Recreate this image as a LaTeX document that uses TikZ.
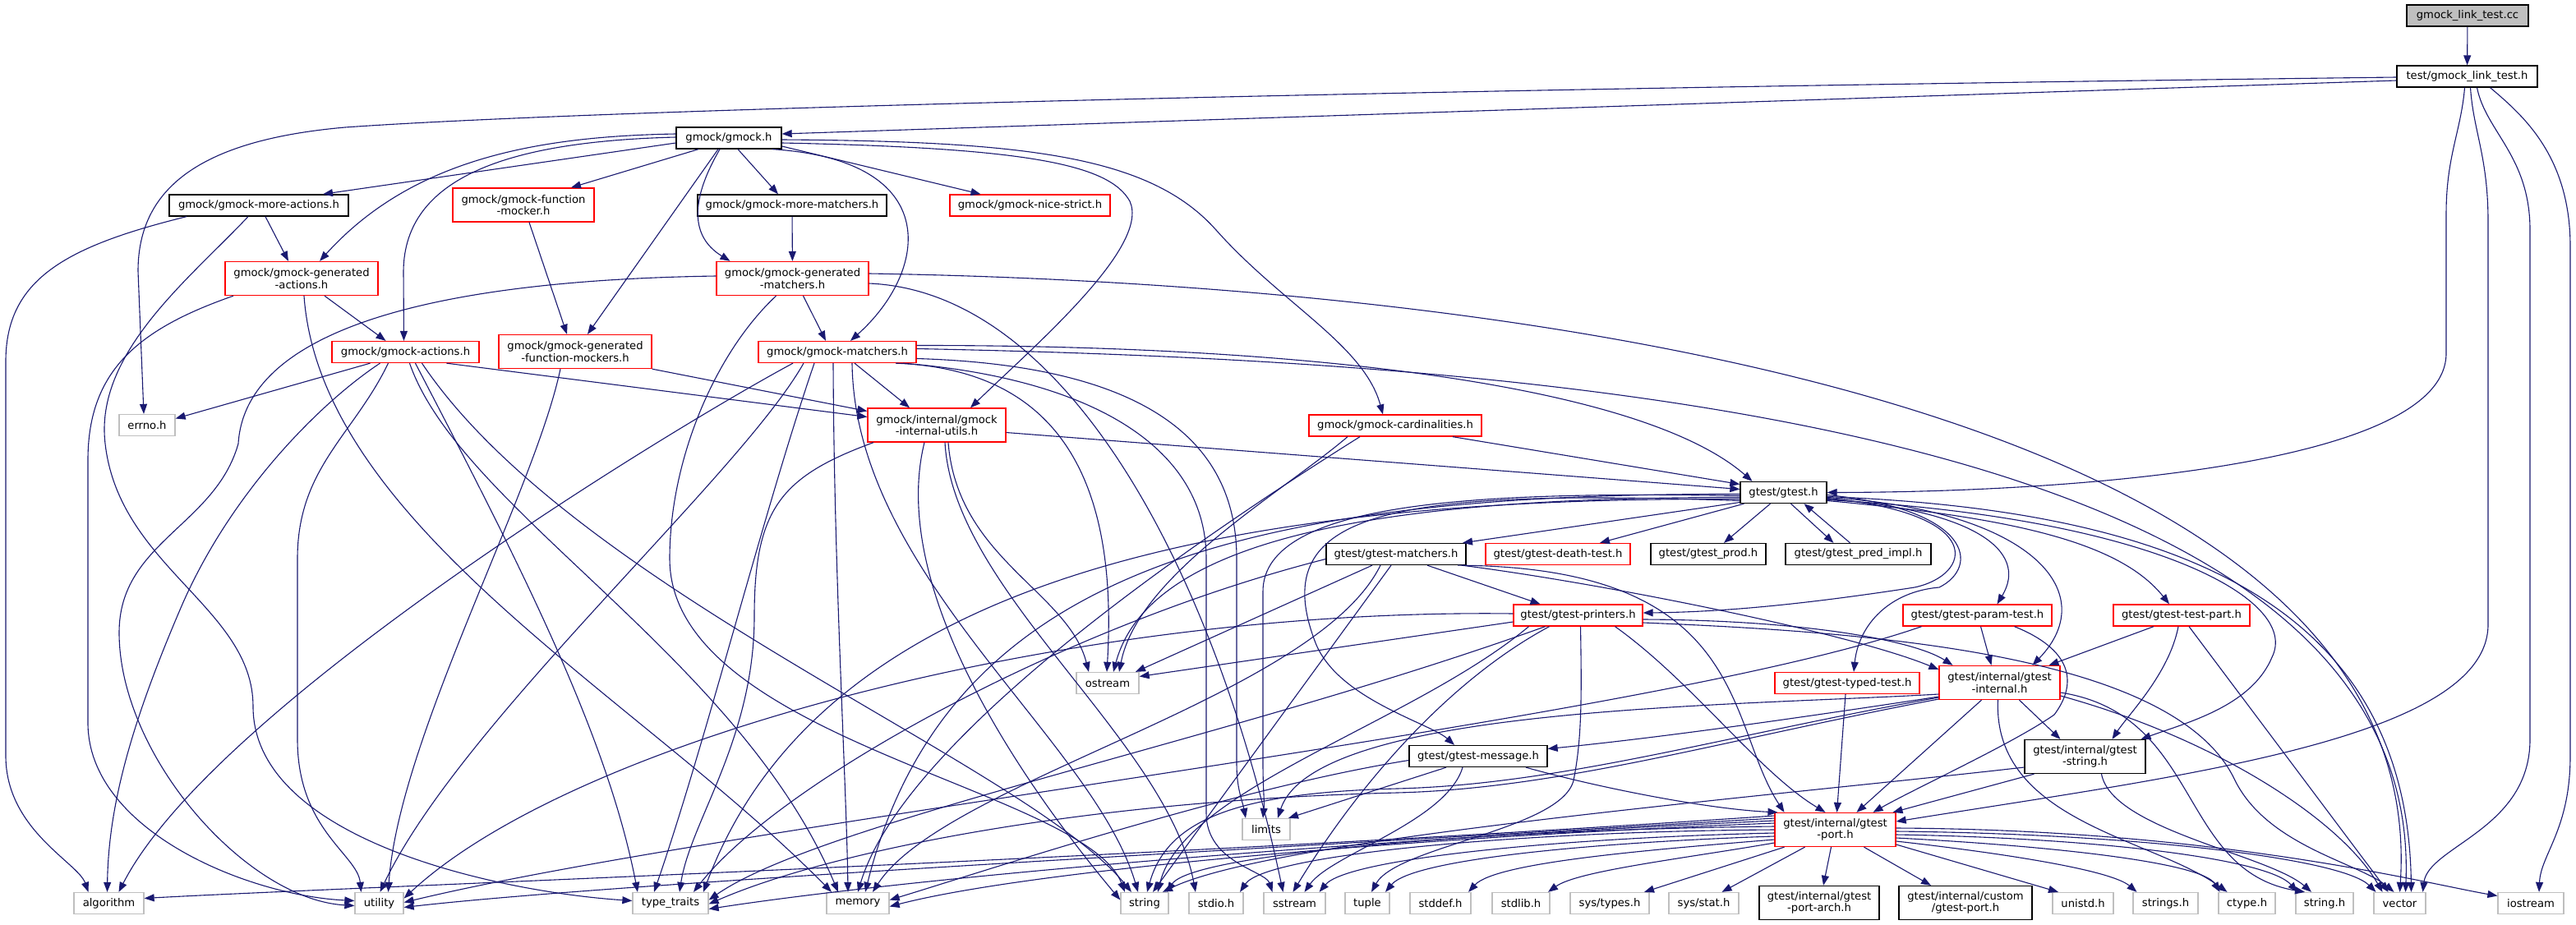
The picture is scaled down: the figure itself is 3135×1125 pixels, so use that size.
\documentclass[tikz,border=0pt]{standalone}
\usepackage{fontspec}
\setmainfont{DejaVu Sans}
\usetikzlibrary{arrows.meta}
\definecolor{edgec}{HTML}{191970}
\definecolor{greyc}{HTML}{BFBFBF}
\begin{document}
\begin{tikzpicture}[x=1pt,y=-1pt,
  nbox/.style={rectangle, inner sep=0pt, line width=1.3pt, fill=white, align=center,
    font=\fontsize{13.15pt}{14.4pt}\selectfont, minimum height=26pt},
  twol/.style={minimum height=41pt},
  bk/.style={nbox, draw=black},
  rd/.style={nbox, draw=red},
  gy/.style={nbox, draw=greyc},
  edg/.style={draw=edgec, line width=1.1pt, -{Triangle[length=12pt,width=9pt]}},
]
\useasboundingbox (0,0) rectangle (3135,1125);
\fill[white] (0,0) rectangle (3135,1125);

% ---------- nodes ----------
\node[bk, fill=greyc, minimum width=148pt] (cc) at (3003,19) {gmock\_link\_test.cc};
\node[bk, minimum width=171pt] (test) at (3002.5,93) {test/gmock\_link\_test.h};
\node[bk, minimum width=128pt] (gmock) at (887,168) {gmock/gmock.h};
\node[bk, minimum width=218pt] (moreact) at (315,250) {gmock/gmock-more-actions.h};
\node[rd, twol, minimum width=172pt] (funcmock) at (637,249.5) {gmock/gmock-function\\-mocker.h};
\node[bk, minimum width=230pt] (morematch) at (964,250) {gmock/gmock-more-matchers.h};
\node[rd, minimum width=195pt] (nice) at (1253.5,250) {gmock/gmock-nice-strict.h};
\node[rd, twol, minimum width=186pt] (genact) at (367,339) {gmock/gmock-generated\\-actions.h};
\node[rd, twol, minimum width=185pt] (genmatch) at (964.5,339) {gmock/gmock-generated\\-matchers.h};
\node[rd, minimum width=179pt] (actions) at (493.5,428.5) {gmock/gmock-actions.h};
\node[rd, twol, minimum width=186pt] (genfm) at (700,428) {gmock/gmock-generated\\-function-mockers.h};
\node[rd, minimum width=192pt] (matchers) at (1019,428.5) {gmock/gmock-matchers.h};
\node[gy, minimum width=68pt] (errno) at (179,517.5) {errno.h};
\node[rd, twol, minimum width=168pt] (utils) at (1140,517.5) {gmock/internal/gmock\\-internal-utils.h};
\node[rd, minimum width=210pt] (card) at (1698,518) {gmock/gmock-cardinalities.h};
\node[bk, minimum width=105pt] (gtest) at (2170.5,599.5) {gtest/gtest.h};
\node[bk, minimum width=170pt] (gmatch) at (1699,674.5) {gtest/gtest-matchers.h};
\node[rd, minimum width=176pt] (death) at (1896,674.5) {gtest/gtest-death-test.h};
\node[bk, minimum width=140pt] (prod) at (2079,674.5) {gtest/gtest\_prod.h};
\node[bk, minimum width=177pt] (pred) at (2261.5,674.5) {gtest/gtest\_pred\_impl.h};
\node[rd, minimum width=157pt] (printers) at (1920.5,749) {gtest/gtest-printers.h};
\node[rd, minimum width=181pt] (param) at (2406.5,749) {gtest/gtest-param-test.h};
\node[rd, minimum width=166pt] (testpart) at (2655,749) {gtest/gtest-test-part.h};
\node[gy, minimum width=76pt] (ostream) at (1348,831.5) {ostream};
\node[rd, minimum width=176pt] (typed) at (2248,831.5) {gtest/gtest-typed-test.h};
\node[rd, twol, minimum width=147pt] (internal) at (2433.5,831) {gtest/internal/gtest\\-internal.h};
\node[bk, minimum width=168pt] (message) at (1799,920.5) {gtest/gtest-message.h};
\node[bk, twol, minimum width=147pt] (gstring) at (2537.5,921) {gtest/internal/gtest\\-string.h};
\node[gy, minimum width=58pt] (limits) at (1541,1009.5) {limits};
\node[rd, twol, minimum width=147pt] (port) at (2233.5,1010) {gtest/internal/gtest\\-port.h};
% bottom row
\node[gy, minimum width=85pt] (algorithm) at (132.5,1099.5) {algorithm};
\node[gy, minimum width=59pt] (utility) at (461.5,1099.5) {utility};
\node[gy, minimum width=92pt] (typetraits) at (816,1099.5) {type\_traits};
\node[gy, minimum width=76pt] (memory) at (1044,1099.5) {memory};
\node[gy, minimum width=58pt] (string) at (1393,1099.5) {string};
\node[gy, minimum width=66pt] (stdio) at (1480,1099.5) {stdio.h};
\node[gy, minimum width=75pt] (sstream) at (1575.5,1099.5) {sstream};
\node[gy, minimum width=54pt] (tuple) at (1664,1099.5) {tuple};
\node[gy, minimum width=74pt] (stddef) at (1753,1099.5) {stddef.h};
\node[gy, minimum width=70pt] (stdlib) at (1851,1099.5) {stdlib.h};
\node[gy, minimum width=96pt] (systypes) at (1959,1099.5) {sys/types.h};
\node[gy, minimum width=85pt] (sysstat) at (2073.5,1099.5) {sys/stat.h};
\node[bk, twol, minimum width=146pt] (portarch) at (2214,1099) {gtest/internal/gtest\\-port-arch.h};
\node[bk, twol, minimum width=162pt] (custom) at (2392,1099) {gtest/internal/custom\\/gtest-port.h};
\node[gy, minimum width=74pt] (unistd) at (2535,1099.5) {unistd.h};
\node[gy, minimum width=79pt] (strings) at (2635.5,1099.5) {strings.h};
\node[gy, minimum width=69pt] (ctype) at (2734.5,1099.5) {ctype.h};
\node[gy, minimum width=70pt] (stringh) at (2829,1099.5) {string.h};
\node[gy, minimum width=63pt] (vector) at (2920.5,1099.5) {vector};
\node[gy, minimum width=80pt] (iostream) at (3080,1099.5) {iostream};

% ---------- edges ----------
% root
\draw[edg] (cc) -- (test);
% test
\draw[edg] ([yshift=-5pt]test.west) -- ([yshift=5pt]gmock.east);
\draw[edg] ([yshift=-1pt]test.west) .. controls (1600,110) and (700,135) .. (420,155) .. controls (250,170) and (168,225) .. (168,330) -- ([xshift=-4pt]errno.north);
\draw[edg] ([xshift=-3pt]test.south) .. controls (2995,160) and (2977,190) .. (2977,260) -- (2977,430) .. controls (2977,565) and (2530,599) .. (gtest.east);
\draw[edg] ([xshift=4pt]test.south) .. controls (3010,160) and (3028,190) .. (3028,270) -- (3028,760) .. controls (3028,900) and (2650,945) .. ([yshift=10pt]port.east);
\draw[edg] ([xshift=12pt]test.south) .. controls (3025,160) and (3079,190) .. (3079,280) -- (3079,900) .. controls (3079,1010) and (2955,1030) .. ([xshift=28pt]vector.north);
\draw[edg] ([xshift=28pt]test.south) .. controls (3070,140) and (3128,190) .. (3128,300) -- (3128,920) .. controls (3128,1010) and (3092,1040) .. ([xshift=10pt]iostream.north);
% gmock
\draw[edg] ([yshift=-6pt]gmock.west) -- ([xshift=78pt]moreact.north);
\draw[edg] ([yshift=5pt]gmock.west) .. controls (650,166) and (500,195) .. ([xshift=22pt]genact.north);
\draw[edg] ([yshift=1pt]gmock.west) .. controls (620,172) and (492,215) .. (491,330) -- ([xshift=-2pt]actions.north);
\draw[edg] ([xshift=-37pt]gmock.south) -- ([xshift=58pt]funcmock.north);
\draw[edg] ([xshift=-13pt]gmock.south) -- ([xshift=15pt]genfm.north);
\draw[edg] ([xshift=-11pt]gmock.south) .. controls (845,235) and (835,285) .. ([xshift=-76pt]genmatch.north);
\draw[edg] ([xshift=11pt]gmock.south) -- ([xshift=-17pt]morematch.north);
\draw[edg] ([xshift=53pt]gmock.south) .. controls (1150,195) and (1130,330) .. ([xshift=16pt]matchers.north);
\draw[edg] ([yshift=-10pt]gmock.east) -- ([xshift=-60pt]nice.north);
\draw[edg] ([yshift=-2pt]gmock.east) .. controls (1250,172) and (1400,190) .. (1480,280) .. controls (1560,370) and (1660,420) .. ([xshift=-15pt]card.north);
\draw[edg] ([yshift=-6pt]gmock.east) .. controls (1250,180) and (1350,200) .. (1375,245) .. controls (1400,300) and (1260,420) .. ([xshift=41pt]utils.north);
% more-actions
\draw[edg] ([xshift=-88pt]moreact.south) .. controls (80,300) and (7,340) .. (7,440) -- (7,920) .. controls (7,1010) and (95,1050) .. ([xshift=-25pt]algorithm.north);
\draw[edg] ([xshift=-13pt]moreact.south) .. controls (230,340) and (115,430) .. (128,540) .. controls (145,690) and (308,740) .. (308,860) .. controls (308,1020) and (600,1085) .. ([yshift=3pt]typetraits.west);
\draw[edg] ([xshift=8pt]moreact.south) -- ([xshift=-16pt]genact.north);
% function-mocker, more-matchers
\draw[edg] ([xshift=7pt]funcmock.south) -- ([xshift=-10pt]genfm.north);
\draw[edg] (morematch) -- (genmatch);
% generated-actions
\draw[edg] ([xshift=28pt]genact.south) -- ([xshift=-24pt]actions.north);
\draw[edg] ([xshift=3pt]genact.south) .. controls (390,640) and (780,850) .. ([xshift=-32pt]memory.north);
\draw[edg] ([xshift=-83pt]genact.south) .. controls (170,400) and (107,450) .. (107,560) -- (107,880) .. controls (107,1010) and (300,1090) .. ([yshift=3pt]utility.west);
% generated-matchers
\draw[edg] ([xshift=13pt]genmatch.south) -- ([xshift=-14pt]matchers.north);
\draw[edg] ([yshift=3pt]genmatch.west) .. controls (600,340) and (300,380) .. (290,540) .. controls (262,640) and (145,660) .. (145,770) .. controls (145,920) and (300,1095) .. ([yshift=-3pt]utility.west);
\draw[edg] ([xshift=-20pt]genmatch.south) .. controls (870,430) and (815,560) .. (815,680) .. controls (815,900) and (1320,960) .. ([xshift=-24pt]string.north);
\draw[edg] ([yshift=6pt]genmatch.east) .. controls (1800,345) and (2960,480) .. (vector.north);
\draw[edg] ([yshift=-6pt]genmatch.east) .. controls (1300,355) and (1480,700) .. ([xshift=-14pt]sstream.north);
% actions
\draw[edg] ([xshift=-43pt]actions.south) -- ([yshift=8pt]errno.east);
\draw[edg] ([xshift=-31pt]actions.south) .. controls (390,490) and (280,600) .. (220,740) .. controls (160,880) and (132,980) .. ([xshift=-2pt]algorithm.north);
\draw[edg] ([xshift=-21pt]actions.south) .. controls (430,530) and (362,570) .. (362,680) -- (362,900) .. controls (362,1010) and (435,1040) .. ([xshift=-22pt]utility.north);
\draw[edg] ([xshift=5pt]actions.south) .. controls (560,620) and (900,800) .. ([xshift=-24pt]memory.north);
\draw[edg] ([xshift=12pt]actions.south) .. controls (640,700) and (740,900) .. ([xshift=-40pt]typetraits.north);
\draw[edg] ([xshift=20pt]actions.south) .. controls (700,720) and (1250,930) .. ([xshift=-16pt]string.north);
\draw[edg] ([xshift=50pt]actions.south) -- ([yshift=10pt]utils.west);
% generated-function-mockers
\draw[edg] ([xshift=-18pt]genfm.south) .. controls (650,600) and (485,900) .. ([xshift=11pt]utility.north);
\draw[edg] (genfm.south east) -- ([yshift=17pt]utils.west);
% matchers
\draw[edg] ([xshift=-54pt]matchers.south) .. controls (820,520) and (260,860) .. ([xshift=12pt]algorithm.north);
\draw[edg] ([xshift=-41pt]matchers.south) .. controls (900,580) and (560,880) .. ([xshift=1pt]utility.north);
\draw[edg] ([xshift=-28pt]matchers.south) .. controls (930,620) and (860,900) .. ([xshift=-20pt]typetraits.north);
\draw[edg] ([xshift=-5pt]matchers.south) .. controls (1015,700) and (1030,950) .. ([xshift=-12pt]memory.north);
\draw[edg] ([xshift=18pt]matchers.south) .. controls (1040,700) and (1330,900) .. ([xshift=-8pt]string.north);
\draw[edg] ([xshift=21pt]matchers.south) -- ([xshift=-33pt]utils.north);
\draw[edg] ([xshift=71pt]matchers.south) .. controls (1300,450) and (1360,600) .. ([xshift=-1pt]ostream.north);
\draw[edg] ([xshift=80pt]matchers.south) .. controls (1320,460) and (1468,540) .. (1468,680) -- (1468,990) .. controls (1468,1050) and (1540,1060) .. ([xshift=-27pt]sstream.north);
\draw[edg] ([yshift=-8pt]matchers.east) .. controls (1400,445) and (1505,540) .. (1505,680) -- (1505,930) .. controls (1505,960) and (1512,975) .. ([xshift=-25pt]limits.north);
\draw[edg] ([yshift=4pt]matchers.east) .. controls (1900,440) and (2950,520) .. ([xshift=7pt]vector.north);
\draw[edg] ([yshift=8pt]matchers.east) .. controls (1600,420) and (2000,470) .. ([xshift=-38pt]gtest.north);
% internal-utils
\draw[edg] ([yshift=-9pt]utils.east) -- ([yshift=4pt]gtest.west);
\draw[edg] ([xshift=-77pt]utils.south) .. controls (950,580) and (918,620) .. (918,750) .. controls (918,900) and (840,1000) .. ([xshift=11pt]typetraits.north);
\draw[edg] ([xshift=-15pt]utils.south) .. controls (1080,720) and (1250,960) .. ([yshift=4pt]string.west);
\draw[edg] ([xshift=10pt]utils.south) .. controls (1160,720) and (1420,900) .. ([xshift=-25pt]stdio.north);
\draw[edg] ([xshift=14pt]utils.south) .. controls (1165,680) and (1300,720) .. ([xshift=-23pt]ostream.north);
% cardinalities
\draw[edg] ([xshift=70pt]card.south) -- ([yshift=10pt]gtest.west);
\draw[edg] ([xshift=-58pt]card.south) .. controls (1560,600) and (1385,700) .. ([xshift=14pt]ostream.north);
\draw[edg] ([xshift=-43pt]card.south) .. controls (1450,660) and (1100,900) .. (memory.north);
% gtest.h
\draw[edg] ([yshift=-12pt]gtest.west) -- ([xshift=81pt]gmatch.north);
\draw[edg] ([xshift=-48pt]gtest.south) -- ([xshift=51pt]death.north);
\draw[edg] ([xshift=-16pt]gtest.south) -- ([xshift=19pt]prod.north);
\draw[edg] ([xshift=9pt]gtest.south) -- ([xshift=-30pt]pred.north);
\draw[edg] ([xshift=-10pt]pred.north) -- ([xshift=25pt]gtest.south);
\draw[edg] ([yshift=-8pt]gtest.east) .. controls (2400,620) and (2470,670) .. ([xshift=24pt]param.north);
\draw[edg] ([yshift=-10pt]gtest.east) .. controls (2450,630) and (2580,660) .. ([xshift=-15pt]testpart.north);
\draw[edg] ([yshift=-6pt]gtest.east) .. controls (2470,620) and (2560,720) .. ([xshift=40pt]internal.north);
\draw[edg] ([yshift=-3pt]gtest.east) .. controls (2400,620) and (2410,690) .. (2360,715) .. controls (2300,720) and (2262,760) .. ([xshift=8pt]typed.north);
\draw[edg] ([yshift=-9pt]gtest.east) .. controls (2620,630) and (2800,730) .. (2765,800) .. controls (2740,860) and (2660,880) .. ([xshift=68pt]gstring.north);
\draw[edg] ([yshift=-7pt]gtest.east) .. controls (2420,625) and (2400,700) .. (2330,715) .. controls (2200,735) and (2100,745) .. ([yshift=3pt]printers.east);
\draw[edg] ([yshift=-10pt]gtest.west) .. controls (1700,595) and (1540,620) .. (1600,780) .. controls (1625,850) and (1740,880) .. ([xshift=-29pt]message.north);
\draw[edg] ([yshift=-6pt]gtest.west) .. controls (1700,605) and (1400,650) .. ([xshift=7pt]ostream.north);
\draw[edg] ([yshift=-4pt]gtest.west) .. controls (1800,598) and (1537,610) .. (1537,720) -- (1537,930) .. controls (1537,960) and (1539,975) .. ([xshift=-4pt]limits.north);
\draw[edg] ([yshift=-2pt]gtest.west) .. controls (1500,600) and (1150,700) .. ([xshift=9pt]memory.north);
\draw[edg] ([yshift=-8pt]gtest.west) .. controls (1500,605) and (1000,700) .. ([xshift=40pt]typetraits.north);
\draw[edg] ([yshift=-5pt]gtest.east) .. controls (2620,620) and (2930,720) .. ([xshift=14pt]vector.north);
% gtest-matchers
\draw[edg] ([xshift=38pt]gmatch.south) -- ([xshift=-46pt]printers.north);
\draw[edg] ([xshift=-29pt]gmatch.south) -- ([xshift=34pt]ostream.north);
\draw[edg] ([xshift=-19pt]gmatch.south) .. controls (1600,850) and (1150,950) .. ([xshift=18pt]memory.north);
\draw[edg] ([xshift=-6pt]gmatch.south) -- ([xshift=10pt]string.north);
\draw[edg] ([yshift=-6pt]gmatch.west) .. controls (1300,760) and (950,950) .. ([xshift=28pt]typetraits.north);
\draw[edg] ([xshift=80pt]gmatch.south) .. controls (1950,710) and (2250,770) .. ([yshift=16pt]internal.west);
\draw[edg] ([xshift=75pt]gmatch.south) .. controls (2130,690) and (2100,880) .. ([xshift=-62pt]port.north);
% gtest-printers
\draw[edg] ([yshift=2pt]printers.west) .. controls (1300,740) and (700,900) .. ([yshift=6pt]utility.east);
\draw[edg] ([yshift=-8pt]printers.west) -- ([yshift=8pt]ostream.east);
\draw[edg] ([xshift=-60pt]printers.south) .. controls (1720,880) and (1440,960) .. ([xshift=16pt]string.north);
\draw[edg] ([xshift=-35pt]printers.south) .. controls (1760,830) and (1650,960) .. ([xshift=-2pt]sstream.north);
\draw[edg] ([xshift=3pt]printers.south) .. controls (1925,850) and (1925,900) .. (1915,950) .. controls (1900,1010) and (1700,1030) .. ([xshift=5pt]tuple.north);
\draw[edg] ([xshift=-40pt]printers.south) .. controls (1500,900) and (1000,1000) .. ([yshift=4pt]typetraits.east);
\draw[edg] ([yshift=-5pt]printers.east) .. controls (2200,755) and (2330,780) .. ([xshift=-57pt]internal.north);
\draw[edg] ([yshift=-9pt]printers.east) .. controls (2300,770) and (2650,800) .. (2720,950) .. controls (2760,1030) and (2870,1050) .. ([xshift=-7pt]vector.north);
\draw[edg] ([xshift=45pt]printers.south) .. controls (2060,830) and (2140,940) .. ([xshift=-12pt]port.north);
% param-test
\draw[edg] ([xshift=4pt]param.south) -- ([xshift=-10pt]internal.north);
\draw[edg] ([xshift=45pt]param.south) .. controls (2520,790) and (2530,830) .. (2500,870) .. controls (2450,905) and (2330,960) .. ([xshift=46pt]port.north);
\draw[edg] ([xshift=-68pt]param.south) .. controls (2000,880) and (900,1000) .. ([yshift=1pt]utility.east);
% test-part
\draw[edg] ([xshift=-34pt]testpart.south) -- ([xshift=60pt]internal.north);
\draw[edg] ([xshift=-4pt]testpart.south) .. controls (2640,820) and (2590,870) .. ([xshift=33pt]gstring.north);
\draw[edg] ([xshift=9pt]testpart.south) -- ([xshift=-14pt]vector.north);
% typed-test
\draw[edg] ([xshift=-2pt]typed.south) -- ([xshift=2pt]port.north);
% gtest-internal
\draw[edg] ([xshift=-22pt]internal.south) -- ([xshift=26pt]port.north);
\draw[edg] ([xshift=24pt]internal.south) -- ([xshift=-30pt]gstring.north);
\draw[edg] ([xshift=-2pt]internal.south) .. controls (2425,1000) and (2620,1020) .. ([xshift=-24pt]ctype.north);
\draw[edg] ([yshift=-12pt]internal.east) .. controls (2680,870) and (2650,1060) .. ([xshift=-24pt]stringh.north);
\draw[edg] ([yshift=-16pt]internal.east) .. controls (2700,900) and (2850,1000) .. ([xshift=-21pt]vector.north);
\draw[edg] ([yshift=-14pt]internal.west) .. controls (2100,860) and (1600,860) .. ([xshift=14pt]limits.north);
\draw[edg] ([yshift=-17pt]internal.west) .. controls (2150,880) and (2000,900) .. ([yshift=9pt]message.east);
\draw[edg] ([yshift=-18pt]internal.west) .. controls (2100,895) and (1900,955) .. (1700,960) .. controls (1500,965) and (1420,1000) .. ([xshift=3pt]string.north);
\draw[edg] ([yshift=-20pt]internal.west) .. controls (2100,900) and (1900,960) .. (1700,965) .. controls (1300,975) and (1000,1040) .. ([yshift=-1pt]typetraits.east);
% gtest-message
\draw[edg] ([xshift=-39pt]message.south) -- ([xshift=27pt]limits.north);
\draw[edg] ([xshift=-19pt]message.south) .. controls (1760,1000) and (1620,1040) .. ([xshift=12pt]sstream.north);
\draw[edg] ([yshift=-5pt]message.west) .. controls (1500,960) and (1200,1060) .. ([yshift=4pt]memory.east);
\draw[edg] ([xshift=58pt]message.south) .. controls (1950,960) and (2080,985) .. ([xshift=-70pt]port.north);
% gtest-string
\draw[edg] ([xshift=-62pt]gstring.south) -- ([xshift=70pt]port.north);
\draw[edg] ([yshift=-13pt]gstring.west) .. controls (2150,970) and (1550,1020) .. ([xshift=22pt]string.north);
\draw[edg] ([xshift=20pt]gstring.south) .. controls (2570,1010) and (2760,1040) .. ([xshift=-16pt]stringh.north);
% gtest-port
\draw[edg] ([xshift=-5pt]port.south) -- ([xshift=5pt]portarch.north);
\draw[edg] ([xshift=35pt]port.south) -- ([xshift=-42pt]custom.north);
\draw[edg] ([xshift=-37pt]port.south) -- ([xshift=22pt]sysstat.north);
\draw[edg] ([xshift=-62pt]port.south) -- ([xshift=42pt]systypes.north);
\draw[edg] ([yshift=-16pt]port.west) .. controls (2050,1045) and (1920,1060) .. ([xshift=33pt]stdlib.north);
\draw[edg] ([yshift=-12pt]port.west) .. controls (2000,1035) and (1820,1050) .. ([xshift=34pt]stddef.north);
\draw[edg] ([yshift=-8pt]port.west) .. controls (1950,1025) and (1720,1045) .. ([xshift=22pt]tuple.north);
\draw[edg] ([yshift=-4pt]port.west) .. controls (1900,1020) and (1640,1045) .. ([xshift=30pt]sstream.north);
\draw[edg] (port.west) .. controls (1850,1012) and (1540,1040) .. ([xshift=29pt]stdio.north);
\draw[edg] ([yshift=4pt]port.west) .. controls (1800,1010) and (1450,1040) .. ([xshift=27pt]string.north);
\draw[edg] ([yshift=8pt]port.west) .. controls (1700,1020) and (1250,1060) .. ([yshift=-4pt]memory.east);
\draw[edg] ([yshift=11pt]port.west) .. controls (1600,1025) and (1100,1070) .. ([yshift=-7pt]typetraits.east);
\draw[edg] ([yshift=14pt]port.west) .. controls (1500,1035) and (750,1075) .. ([yshift=-5pt]utility.east);
\draw[edg] ([yshift=17pt]port.west) .. controls (1400,1045) and (420,1080) .. ([yshift=6pt]algorithm.east);
\draw[edg] ([yshift=-18pt]port.east) -- ([xshift=-30pt]unistd.north);
\draw[edg] ([yshift=-14pt]port.east) .. controls (2450,1040) and (2570,1060) .. ([xshift=-35pt]strings.north);
\draw[edg] ([yshift=-10pt]port.east) .. controls (2500,1030) and (2680,1050) .. ([xshift=-33pt]ctype.north);
\draw[edg] ([yshift=-6pt]port.east) .. controls (2550,1020) and (2760,1045) .. ([xshift=-33pt]stringh.north);
\draw[edg] ([yshift=-2pt]port.east) .. controls (2600,1015) and (2850,1045) .. ([xshift=-29pt]vector.north);
\draw[edg] ([yshift=2pt]port.east) .. controls (2700,1010) and (2950,1075) .. ([yshift=9pt]iostream.west);
\end{tikzpicture}
\end{document}
